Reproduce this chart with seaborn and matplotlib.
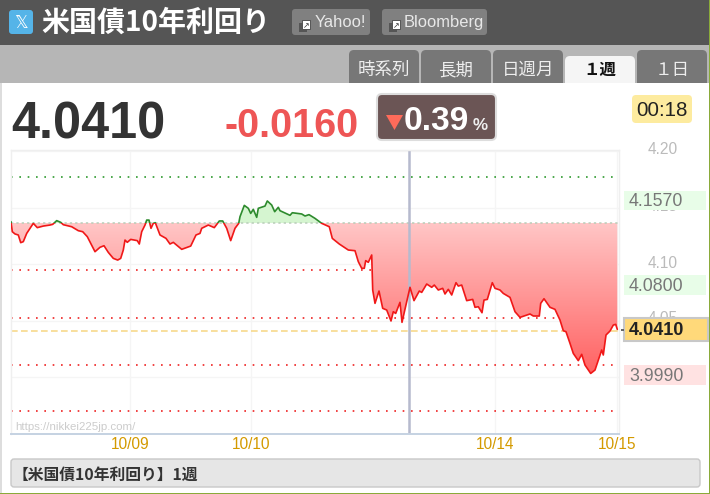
import numpy as np
import pandas as pd
import seaborn as sns
import matplotlib
matplotlib.use("Agg")
import matplotlib.pyplot as plt
from matplotlib.patches import Rectangle, FancyBboxPatch, Polygon
from matplotlib.path import Path

bars = [0, 1.3, 4, 7.3, 9.7, 12.3, 15.7, 19, 22.3, 26.3, 32.3, 39, 41.7, 45.7, 49.7, 52.3, 60.7, 67.3, 71.7, 76.3,
        79.7, 84, 89, 93, 97.3, 102.3, 106.7, 109.7, 112.3, 114, 116.3, 119.7, 126.3, 128.3, 130.7, 134, 135.7, 138,
        140, 142.3, 144.3, 149, 155, 159, 162.3, 170.7, 179.7, 185, 189, 190.7, 197.3, 203.3, 208.3, 211.7, 215.7,
        219.7, 224, 227.7, 229, 233.3, 237.3, 239.7, 242.3, 245.7, 247.3, 254, 256.3, 260.7, 263.7, 267.3, 269, 279,
        281.3, 290.7, 294, 298, 304, 310.7, 318.3, 321.3, 328.3,
        337.3, 344, 347.3, 350.7, 353.3, 354.7, 357.3, 360.7, 361.7, 364, 368, 371.7, 375.7, 380, 382.3, 384.7, 389,
        391, 399, 403, 408.3, 410.7, 415.7, 420.7, 423.3, 427.3, 431.7, 434, 437.3, 440.7, 445, 447.3, 450.7, 455.7,
        461.7, 464, 467.3, 471, 473, 476.3, 481.3, 484, 489, 492.3, 499, 504, 509, 519, 522.3, 528.3, 529.7, 533, 539,
        544, 549, 552.3, 555, 559, 562.3, 567.3, 570.7, 574, 579.7, 584, 590.7, 592.3, 595, 599, 602.3, 604.7, 606.3]
yields = [4.1379, 4.1290, 4.1270, 4.1261, 4.1193, 4.1202, 4.1275, 4.1320, 4.1364, 4.1326, 4.1340, 4.1349, 4.1355,
          4.1388, 4.1373, 4.1352, 4.1334, 4.1299, 4.1290, 4.1246, 4.1187, 4.1113, 4.1152, 4.1166, 4.1107, 4.1054,
          4.1039, 4.1054, 4.1128, 4.1216, 4.1196, 4.1222, 4.1211, 4.1181, 4.1290, 4.1349, 4.1393, 4.1393, 4.1320,
          4.1364, 4.1370, 4.1261, 4.1231, 4.1181, 4.1196, 4.1134, 4.1163, 4.1261, 4.1275, 4.1320, 4.1349, 4.1326,
          4.1385, 4.1385, 4.1320, 4.1211, 4.1320, 4.1364, 4.1423, 4.1523, 4.1497, 4.1452, 4.1488, 4.1417, 4.1497,
          4.1517, 4.1562, 4.1526, 4.1467, 4.1506, 4.1476, 4.1435, 4.1458, 4.1447, 4.1429, 4.1441, 4.1408, 4.1364,
          4.1334, 4.1231, 4.1181,
          4.1128, 4.1122, 4.1025, 4.0966, 4.0966, 4.1034, 4.1019, 4.1084, 4.0774, 4.0656, 4.0765, 4.0612, 4.0597,
          4.0500, 4.0582, 4.0567, 4.0665, 4.0488, 4.0798, 4.0680, 4.0765, 4.0753, 4.0827, 4.0798, 4.0818, 4.0774,
          4.0789, 4.0739, 4.0780, 4.0730, 4.0839, 4.0809, 4.0818, 4.0680, 4.0691, 4.0621, 4.0626, 4.0573, 4.0685,
          4.0691, 4.0839, 4.0789, 4.0774, 4.0744, 4.0709, 4.0582, 4.0532, 4.0562, 4.0544, 4.0544, 4.0656, 4.0697,
          4.0621, 4.0603, 4.0508, 4.0414, 4.0405, 4.0302, 4.0213, 4.0149, 4.0205, 4.0110, 4.0036, 4.0066, 4.0243,
          4.0199, 4.0376, 4.0411, 4.0464, 4.0470, 4.0426]
base_level = 4.1367
current_level = 4.0412
up_levels = [4.1774]
down_levels = [4.0951, 4.0527, 4.0111, 3.9704]
y_ticks = [4.00, 4.05, 4.10, 4.15, 4.20]
y_tick_labels = ["4.20", "4.15", "4.10", "4.05"]
x_ticks = [119, 240, 398, 484, 606]
x_tick_labels = ["10/09", "10/10", "", "10/14", "10/15"]
tabs = ["時系列", "長期", "日週月", "１週", "１日"]
side_labels = ["4.1570", "4.0800", "4.0410", "3.9990"]
Y_MIN, Y_MAX = 3.95, 4.2013

sns.set_theme(style="white")
SANS = ["Liberation Sans", "Noto Sans CJK JP", "DejaVu Sans"]
CJK = ["Noto Sans CJK JP", "DejaVu Sans"]
plt.rcParams["font.family"] = SANS
px = 0.72  # font points per pixel at dpi 100

W, H = 710, 494
fig = plt.figure(figsize=(W / 100, H / 100), dpi=100, facecolor="white")
bg = fig.add_axes([0, 0, 1, 1], zorder=0)
bg.set_xlim(0, W); bg.set_ylim(H, 0); bg.axis("off")


def rect(x0, y0, x1, y1, fc, ec="none", lw=0, z=1, r=0):
    if r:
        p = FancyBboxPatch((x0 + r, y0 + r), x1 - x0 - 2 * r, y1 - y0 - 2 * r,
                           boxstyle=f"round,pad={r},rounding_size={r}", fc=fc, ec=ec, lw=lw, zorder=z)
    else:
        p = Rectangle((x0, y0), x1 - x0, y1 - y0, fc=fc, ec=ec, lw=lw, zorder=z)
    bg.add_patch(p)


def label(x, y, s, size, color, weight="normal", ha="left", fam=None, z=5):
    bg.text(x, y, s, fontsize=size * px, color=color, weight=weight, ha=ha, va="baseline",
            family=fam or SANS, zorder=z)


# header
rect(0, 0, W, 45, "#555555")
rect(0, 45, W, 83, "#b6b6b6")
rect(0, 83, 2, H, "#dddddd")
rect(709, 0, W, H, "#8aaa3a", z=6)
rect(0, 493, W, H, "#8aaa3a", z=6)
rect(9, 10, 33, 34, "#55b4e8", r=3)
label(21, 28, "𝕏", 17, "white", ha="center", fam=["DejaVu Sans"])
label(41, 31, "米国債10年利回り", 28, "white", "bold", fam=CJK)
rect(292, 9, 370, 35, "#808080", r=3)
rect(382, 9, 487, 35, "#808080", r=3)
for x0 in (299, 389):
    rect(x0, 23, x0 + 8, 32, "#555555", z=2)
    rect(x0 + 3, 20, x0 + 11, 29, "white", ec="#444444", lw=0.6, z=3)
    label(x0 + 7, 28, "↗", 8, "#333333", ha="center", fam=["DejaVu Sans"])
label(315, 27, "Yahoo!", 16.5, "#e8e8e8")
label(404, 27, "Bloomberg", 16.5, "#e8e8e8")

for i, t in enumerate(tabs):
    x0 = 349 + i * 72
    active = i == 3
    rect(x0, 56 if active else 50, x0 + 70, 90, "#f5f5f5" if active else "#777777", r=5)
    label(x0 + 35, 75, t, 16.5 if active else 17.5, "#111111" if active else "#eeeeee",
          "bold" if active else "normal", ha="center", fam=CJK)
rect(2, 83, 709, 493, "white", z=2)

# quote line
label(11, 138, side_labels[2], 50.5, "#333333", "bold")
label(224, 137, "-0.0160", 39.5, "#ee5555", "bold")
rect(377, 94, 496, 140, "#6b5555", ec="#dddddd", lw=1.5, z=3, r=5)
bg.add_patch(Polygon([[386, 115], [403, 115], [394.5, 130]], fc="#ff6b5a", ec="none", zorder=4))
label(404, 130, "0.39", 33.5, "white", "bold")
label(473, 130, "%", 17, "#eeeeee", "bold")
rect(632, 95, 692, 123, "#fdeb9f", z=3, r=4)
label(662, 116, "00:18", 20.5, "#222222", ha="center")

# right side labels
rect(624, 191, 706, 210, "#e8fde8", z=3)
rect(624, 275, 706, 295, "#e8fde8", z=3)
rect(624, 365, 706, 385, "#ffe2e2", z=3)
rect(624, 318, 708, 341, "#ffd97a", ec="#c8c8c8", lw=1.5, z=3)
rect(621, 329, 624, 331, "#666666", z=3)
label(629, 205.5, side_labels[0], 17.8, "#777777")
label(629, 291, side_labels[1], 17.8, "#777777")
label(629, 335, side_labels[2], 18, "#222222", "bold")
label(629, 381, side_labels[3], 17.8, "#777777")
for txt, yy in zip(y_tick_labels, [154, 211, 268, 323]):
    label(663, yy, txt, 15.5, "#bbbbbb", ha="center", z=2.5)

# footer
rect(11, 459, 700, 487, "#e6e6e6", ec="#c8c8c8", lw=1, z=3, r=3)
label(13, 480, "【米国債10年利回り】1週", 15.8, "#333333", "bold", fam=CJK)

# chart
ax = fig.add_axes([11 / W, 1 - 434 / H, 608 / W, 284 / H], zorder=2)
ax.patch.set_alpha(0)
for s in ax.spines.values():
    s.set_color("#efefef"); s.set_linewidth(1)
ax.spines["bottom"].set_color("#c5d2e2"); ax.spines["bottom"].set_linewidth(1.4)
ax.set_yticks(y_ticks); ax.set_yticklabels([])
ax.set_xticks(x_ticks); ax.set_xticklabels(x_tick_labels)
ax.tick_params(axis="y", length=0)
ax.tick_params(axis="x", length=3, color="#c5d2e2", labelcolor="#d49a00", labelsize=15.5 * px, pad=-1)
ax.grid(True, color="#f5f5f5", lw=1)
ax.set_axisbelow(True)

df = pd.DataFrame({"bar": bars, "yield": yields})
x = df["bar"].to_numpy(); y = df["yield"].to_numpy()

# guides sit under the fills
ax.axhline(base_level, color="#b9cdb9", lw=1.1, ls=(0, (1.5, 2)), zorder=2)
for v in up_levels:
    ax.axhline(v, color="#2e9a2e", lw=1.2, ls=(0, (1, 4)), zorder=1.2)
for v in down_levels:
    ax.axhline(v, color="#ee2222", lw=1.2, ls=(0, (1, 4)), zorder=1.2)
ax.axhline(current_level, color="#f7d98c", lw=1.2, ls=(0, (4, 2)), zorder=1.2)

# fills
ax.fill_between(x, y, base_level, where=y >= base_level, interpolate=True, color="#d5f5d0", lw=0, zorder=1.5)
red_poly = ax.fill_between(x, y, base_level, where=y <= base_level, interpolate=True, color="none", lw=0)
grad = np.linspace(0, 1, 256).reshape(-1, 1, 1)
c0 = np.array([255, 198, 198]) / 255
c1 = np.array([255, 88, 88]) / 255
img = ax.imshow(c0 + (c1 - c0) * grad, extent=[0, 608, 3.99, base_level], origin="upper",
                aspect="auto", zorder=1.5, interpolation="bilinear")
img.set_clip_path(Path.make_compound_path(*red_poly.get_paths()), ax.transData)
ax.axvline(x_ticks[2], color="#b6bace", lw=1.8, zorder=2.2)

# price line, green above the base level and red below it
sns.lineplot(data=df, x="bar", y="yield", ax=ax, color="#f01818", lw=1.2, estimator=None, sort=False, zorder=3)
sns.lineplot(data=df, x="bar", y="yield", ax=ax, color="#2e8b2e", lw=1.2, estimator=None, sort=False, zorder=3)
red, green = ax.lines[-2], ax.lines[-1]
red.set_clip_path(Rectangle((0, Y_MIN), 608, base_level - Y_MIN, transform=ax.transData))
green.set_clip_path(Rectangle((0, base_level), 608, Y_MAX - base_level, transform=ax.transData))
ax.set_xlim(0, 608); ax.set_ylim(Y_MIN, Y_MAX)
ax.set_xlabel(""); ax.set_ylabel("")
ax.text(4, 3.9565, "https://nikkei225jp.com/", fontsize=11.5 * px, color="#cccccc", va="center", zorder=4)

fig.savefig("out.png", dpi=100, facecolor="white")
